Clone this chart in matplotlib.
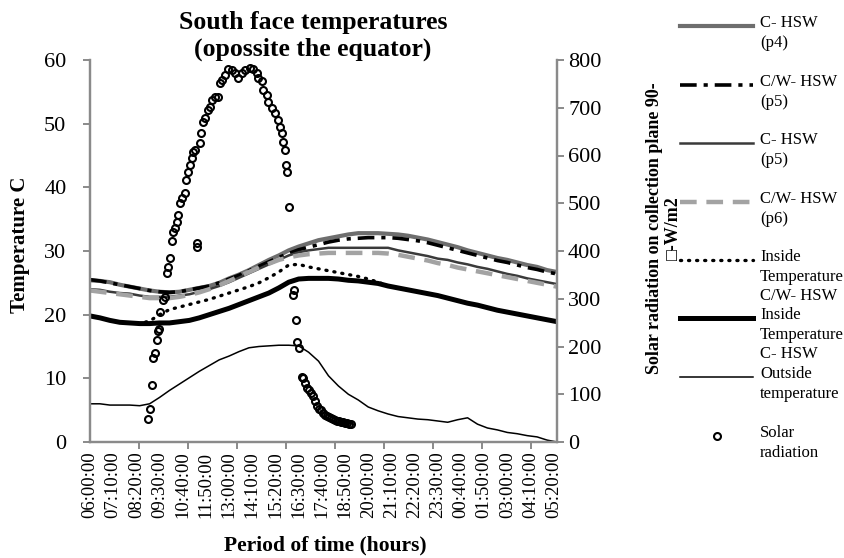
import matplotlib
matplotlib.use("Agg")
import matplotlib.pyplot as plt
from matplotlib.lines import Line2D

plt.rcParams["font.family"] = ["Liberation Serif", "DejaVu Sans"]
plt.rcParams["lines.scale_dashes"] = False

# minutes after 06:00, one reading every half hour
time_min = [0, 30, 60, 90, 120, 150, 180, 210, 240, 270, 300, 330, 360, 390, 420, 450,
            480, 510, 540, 570, 600, 630, 660, 690, 720, 750, 780, 810, 840, 870, 900, 930,
            960, 990, 1020, 1050, 1080, 1110, 1140, 1170, 1200, 1230, 1260, 1290, 1320,
            1350, 1380, 1410]

c_hsw_p4 = [25.4, 25.3, 25.1, 24.7, 24.4, 24.1, 23.8, 23.6, 23.5, 23.6, 23.9, 24.2,
            24.5, 25.0, 25.7, 26.3, 27.0, 27.8, 28.6, 29.3, 30.1, 30.7, 31.2, 31.7,
            32.0, 32.3, 32.6, 32.8, 32.8, 32.8, 32.7, 32.6, 32.4, 32.1, 31.8, 31.4,
            31.0, 30.6, 30.1, 29.7, 29.3, 28.9, 28.6, 28.2, 27.8, 27.5, 27.0, 26.7]
cw_hsw_p5 = [25.5, 25.3, 25.0, 24.7, 24.4, 24.1, 23.8, 23.6, 23.5, 23.6, 23.9, 24.2,
             24.5, 25.0, 25.6, 26.2, 26.9, 27.6, 28.3, 29.0, 29.6, 30.2, 30.6, 31.0,
             31.4, 31.7, 31.9, 32.0, 32.1, 32.1, 32.1, 32.0, 31.8, 31.6, 31.3, 30.9,
             30.5, 30.1, 29.7, 29.3, 28.9, 28.5, 28.2, 27.8, 27.4, 27.1, 26.7, 26.4]
c_hsw_p5 = [24.0, 23.9, 23.6, 23.4, 23.3, 23.0, 22.8, 22.8, 22.8, 23.0, 23.2, 23.6,
            24.0, 24.5, 25.1, 25.8, 26.5, 27.2, 27.9, 28.6, 29.3, 29.8, 30.1, 30.3,
            30.5, 30.5, 30.5, 30.5, 30.5, 30.5, 30.5, 30.1, 29.8, 29.5, 29.2, 28.8,
            28.6, 28.2, 27.9, 27.5, 27.2, 26.8, 26.4, 26.1, 25.7, 25.4, 25.1, 24.8]
cw_hsw_p6 = [23.8, 23.6, 23.4, 23.2, 23.0, 22.8, 22.6, 22.6, 22.6, 22.8, 23.1, 23.5,
             24.0, 24.6, 25.3, 26.0, 26.7, 27.4, 28.0, 28.6, 29.0, 29.3, 29.5, 29.6,
             29.7, 29.7, 29.7, 29.7, 29.7, 29.7, 29.6, 29.4, 29.1, 28.8, 28.5, 28.1,
             27.8, 27.4, 27.1, 26.8, 26.5, 26.2, 25.9, 25.6, 25.3, 25.0, 24.7, 24.4]
inside_cw = [19.8, 19.5, 19.1, 18.8, 18.7, 18.6, 19.0, 20.0, 20.8, 21.2, 21.6, 22.0,
             22.4, 22.9, 23.4, 23.9, 24.4, 25.0, 25.8, 26.7, 27.8, 27.9, 27.5, 27.2,
             26.9, 26.6, 26.3, 26.0, 25.6, 25.1, 24.5, 24.2, 23.9, 23.6, 23.3, 23.0,
             22.6, 22.2, 21.8, 21.5, 21.1, 20.7, 20.4, 20.1, 19.8, 19.5, 19.2, 18.9]
inside_c = [19.8, 19.5, 19.1, 18.8, 18.7, 18.6, 18.6, 18.7, 18.7, 18.9, 19.1, 19.5,
            20.0, 20.5, 21.0, 21.6, 22.2, 22.8, 23.4, 24.2, 25.1, 25.6, 25.7, 25.7,
            25.7, 25.6, 25.4, 25.3, 25.1, 24.9, 24.5, 24.2, 23.9, 23.6, 23.3, 23.0,
            22.6, 22.2, 21.8, 21.5, 21.1, 20.7, 20.4, 20.1, 19.8, 19.5, 19.2, 18.9]
outside = [6.0, 6.0, 5.8, 5.8, 5.8, 5.7, 6.0, 7.0, 8.1, 9.1, 10.1, 11.1, 12.0, 12.9,
           13.5, 14.2, 14.8, 15.0, 15.1, 15.2, 15.2, 15.1, 14.1, 12.7, 10.4, 8.8, 7.5,
           6.6, 5.5, 4.9, 4.4, 4.0, 3.8, 3.6, 3.5, 3.3, 3.1, 3.5, 3.8, 2.8, 2.2, 1.9,
           1.5, 1.3, 1.0, 0.8, 0.3, 0.0]

solar_min = [175, 181, 187, 190, 196, 202, 205, 208, 211, 220, 226, 232, 236, 242, 247,
             252, 257, 262, 267, 272, 277, 287, 290, 297, 302, 307, 312, 317, 322, 324,
             332, 335, 342, 347, 357, 362, 367, 377, 387, 393, 398, 408, 418, 428, 438,
             448, 458, 468, 483, 493, 503, 508, 518, 523, 534, 538, 549, 559, 569, 574,
             579, 584, 589, 592, 594, 602, 612, 616, 622, 626, 632, 639, 643, 649, 655,
             661, 667, 673, 679, 685, 691, 697, 703, 710, 716, 722, 728, 734, 740, 746,
             752, 758, 764, 770, 776, 782, 788]
solar_wm2 = [48, 69, 119, 176, 186, 214, 232, 237, 272, 297, 304, 354, 367, 385, 420,
             440, 448, 461, 475, 500, 511, 521, 548, 566, 580, 595, 608, 611, 417, 409,
             626, 647, 671, 679, 695, 702, 716, 723, 723, 752, 758, 769, 782, 779, 773,
             762, 773, 779, 784, 782, 773, 762, 755, 737, 727, 713, 699, 688, 674, 660,
             647, 629, 611, 580, 566, 493, 308, 318, 255, 210, 196, 137, 133, 124, 113,
             108, 102, 96, 86, 75, 70, 66, 61, 57, 54, 52, 50, 48, 46, 45, 44, 42, 41,
             40, 39, 38, 37]

tick_labels = ["06:00:00", "07:10:00", "08:20:00", "09:30:00", "10:40:00", "11:50:00",
               "13:00:00", "14:10:00", "15:20:00", "16:30:00", "17:40:00", "18:50:00",
               "20:00:00", "21:10:00", "22:20:00", "23:30:00", "00:40:00", "01:50:00",
               "03:00:00", "04:10:00", "05:20:00"]

series = [
    ("C- HSW\n(p4)", c_hsw_p4, dict(color="#6e6e6e", lw=3.0)),
    ("C/W- HSW\n(p5)", cw_hsw_p5, dict(color="black", lw=2.6, dashes=(12, 5, 3, 5))),
    ("C- HSW\n(p5)", c_hsw_p5, dict(color="#3a3a3a", lw=1.8)),
    ("C/W- HSW\n(p6)", cw_hsw_p6, dict(color="#a3a3a3", lw=3.2, dashes=(12, 7))),
    ("Inside\nTemperature\nC/W- HSW", inside_cw,
     dict(color="black", lw=2.4, dashes=(0.8, 5), dash_capstyle="round")),
    ("Inside\nTemperature\nC- HSW", inside_c, dict(color="black", lw=3.6)),
    ("Outside\ntemperature", outside, dict(color="black", lw=1.1)),
]
solar_style = dict(ls="none", marker="o", ms=5, mfc="none", mec="black", mew=1.5)

W, H = 845, 558
fig = plt.figure(figsize=(W / 100, H / 100), dpi=100)
ax = fig.add_axes([90 / W, 116 / H, 467 / W, 382 / H])
ax2 = ax.twinx()

for name, vals, style in series:
    ax.plot(time_min, vals, **style)
ax2.plot(solar_min, solar_wm2, **solar_style)

def label_pos(lbl):
    h, m = int(lbl[:2]), int(lbl[3:5])
    return (h * 60 + m - 360) % 1440

ax.set_xlim(0, 1410)
ax.set_ylim(0, 60)
ax2.set_ylim(0, 800)
ax.set_yticks(range(0, 61, 10))
ax2.set_yticks(range(0, 801, 100))
ax.set_xticks([label_pos(t) for t in tick_labels])
ax.set_xticklabels(tick_labels, rotation=90)
ax.set_xticks(range(0, 1411, 148), minor=True)

grey = "#8a8a8a"
for a in (ax, ax2):
    a.spines["top"].set_visible(False)
    for s in ("left", "right", "bottom"):
        a.spines[s].set_color(grey)
        a.spines[s].set_linewidth(1.6)
ax.tick_params(axis="x", which="major", length=0, labelsize=13.5, pad=7)
ax.tick_params(axis="x", which="minor", length=5, width=1.4, color=grey)
ax.tick_params(axis="y", length=5, width=1.4, color=grey, labelsize=16, pad=12)
ax2.tick_params(axis="y", length=5, width=1.4, color=grey, labelsize=16, pad=3)

fig.text(313 / W, 1 - 11 / H, "South face temperatures\n(opossite the equator)",
         ha="center", va="top", fontsize=18.5, fontweight="bold", linespacing=1.2)
fig.text(20 / W, 1 - 245 / H, "Temperature C", rotation=90, ha="center", va="center",
         fontsize=15, fontweight="bold")
fig.text(325 / W, 1 - 545 / H, "Period of time (hours)", ha="center", va="center",
         fontsize=15.5, fontweight="bold")
fig.text(664 / W, 1 - 228 / H, "Solar radiation on collection plane 90-\n\u25a1-W/m2",
         rotation=90, ha="center", va="center", multialignment="center",
         fontsize=13, fontweight="bold", linespacing=1.1)

# legend drawn by hand so every entry gets the same height
entry_y = [26, 85, 143, 202, 260, 318, 377, 436]
for (name, vals, style), y in zip(series, entry_y):
    fig.add_artist(Line2D([680 / W, 753 / W], [1 - y / H, 1 - y / H],
                          transform=fig.transFigure, **style))
    fig.text(760 / W, 1 - (y - 11) / H, name, ha="left", va="top", fontsize=12,
             linespacing=1.3)
fig.add_artist(Line2D([717 / W], [1 - entry_y[-1] / H], transform=fig.transFigure,
                      **solar_style))
fig.text(760 / W, 1 - (entry_y[-1] - 11) / H, "Solar\nradiation", ha="left", va="top",
         fontsize=12, linespacing=1.3)

fig.savefig("out.png", dpi=100)
